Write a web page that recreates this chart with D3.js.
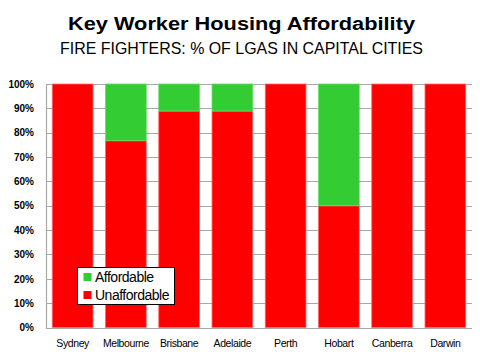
<!DOCTYPE html>
<html>
<head>
<meta charset="utf-8">
<script src="https://cdn.jsdelivr.net/npm/d3@7"></script>
<style>
  html, body { margin: 0; padding: 0; background: #fff; }
  svg { display: block; }
</style>
</head>
<body>
<svg id="chart" width="480" height="360"></svg>
<script>
const categories = ["Sydney", "Melbourne", "Brisbane", "Adelaide", "Perth", "Hobart", "Canberra", "Darwin"];
const unaffordable = [100, 76.7, 88.9, 88.9, 100, 50, 100, 100];
const affordable = [0, 23.3, 11.1, 11.1, 0, 50, 0, 0];
const yTicks = [0, 10, 20, 30, 40, 50, 60, 70, 80, 90, 100];
const seriesNames = ["Affordable", "Unaffordable"];
const seriesColors = ["#33cc33", "#ff0000"];

(function () {
const svg = d3.select("#chart");
const pL = 46, pR = 472, pT = 84, pB = 327.5;

const x = d3.scaleBand().domain(categories).range([pL, pR]).paddingInner(0.235).paddingOuter(0.118);
const y = d3.scaleLinear().domain([0, 100]).range([pB, pT]);

// Title
svg.append("text").attr("x", 241.5).attr("y", 30).attr("text-anchor", "middle")
  .attr("font-family", "Liberation Sans, Arial, sans-serif").attr("font-weight", "bold")
  .attr("font-size", 18).attr("textLength", 347).attr("lengthAdjust", "spacingAndGlyphs")
  .text("Key Worker Housing Affordability");
svg.append("text").attr("x", 241.5).attr("y", 54).attr("text-anchor", "middle")
  .attr("font-family", "Liberation Sans, Arial, sans-serif")
  .attr("font-size", 16.5).attr("textLength", 363).attr("lengthAdjust", "spacingAndGlyphs")
  .text("FIRE FIGHTERS: % OF LGAS IN CAPITAL CITIES");

// Gridlines
svg.append("g").selectAll("line").data(yTicks).join("line")
  .attr("x1", pL).attr("x2", pR)
  .attr("y1", d => Math.round(y(d)) + 0.5).attr("y2", d => Math.round(y(d)) + 0.5)
  .attr("stroke", "#a8a8a8").attr("stroke-width", 1.2);
// Left axis line
svg.append("line").attr("x1", pL + 0.5).attr("x2", pL + 0.5).attr("y1", pT).attr("y2", Math.round(pB) + 0.5)
  .attr("stroke", "#a8a8a8").attr("stroke-width", 1.2);

// Y axis labels
const yAxis = d3.axisLeft(y).tickValues(yTicks).tickFormat(d => d + "%").tickSize(0).tickPadding(0);
const gy = svg.append("g").attr("transform", "translate(34,0)").call(yAxis);
gy.select(".domain").remove();
gy.selectAll("text").attr("font-family", "Liberation Sans, Arial, sans-serif").attr("font-weight", "bold")
  .attr("font-size", 10).attr("fill", "#000");

// Bars
const stackData = categories.map((c, i) => ({ cat: c, Unaffordable: unaffordable[i], Affordable: affordable[i] }));
const stack = d3.stack().keys(["Unaffordable", "Affordable"])(stackData);
const colorOf = { Unaffordable: "#ff0000", Affordable: "#33cc33" };
svg.append("g").selectAll("g").data(stack).join("g")
  .attr("fill", d => colorOf[d.key])
  .attr("stroke", d => d.key === "Unaffordable" ? "#ff6a6a" : "#66dd66")
  .attr("stroke-width", 0.8)
  .selectAll("rect").data(d => d.filter(p => p[1] - p[0] > 0)).join("rect")
  .attr("x", d => x(d.data.cat)).attr("width", x.bandwidth())
  .attr("y", d => y(d[1])).attr("height", d => y(d[0]) - y(d[1]));

// X labels
const xAxis = d3.axisBottom(x).tickSize(0).tickPadding(0);
const gx = svg.append("g").attr("transform", "translate(0,340)").call(xAxis);
gx.select(".domain").remove();
gx.selectAll("text").attr("font-family", "Liberation Sans, Arial, sans-serif")
  .attr("font-size", 10.5).attr("fill", "#000").attr("letter-spacing", -0.4);

// Legend
const lg = svg.append("g");
lg.append("rect").attr("x", 77.5).attr("y", 267.5).attr("width", 97).attr("height", 37)
  .attr("fill", "#fff").attr("stroke", "#000").attr("stroke-width", 1);
seriesNames.forEach((name, i) => {
  const yy = 273 + i * 18;
  lg.append("rect").attr("x", 83.5).attr("y", yy).attr("width", 8).attr("height", 8)
    .attr("fill", seriesColors[i]);
  lg.append("text").attr("x", 95).attr("y", yy + 8.5)
    .attr("font-family", "Liberation Sans, Arial, sans-serif").attr("font-size", 14)
    .attr("letter-spacing", -0.5).attr("fill", "#000").text(name);
});
})();
</script>
</body>
</html>
